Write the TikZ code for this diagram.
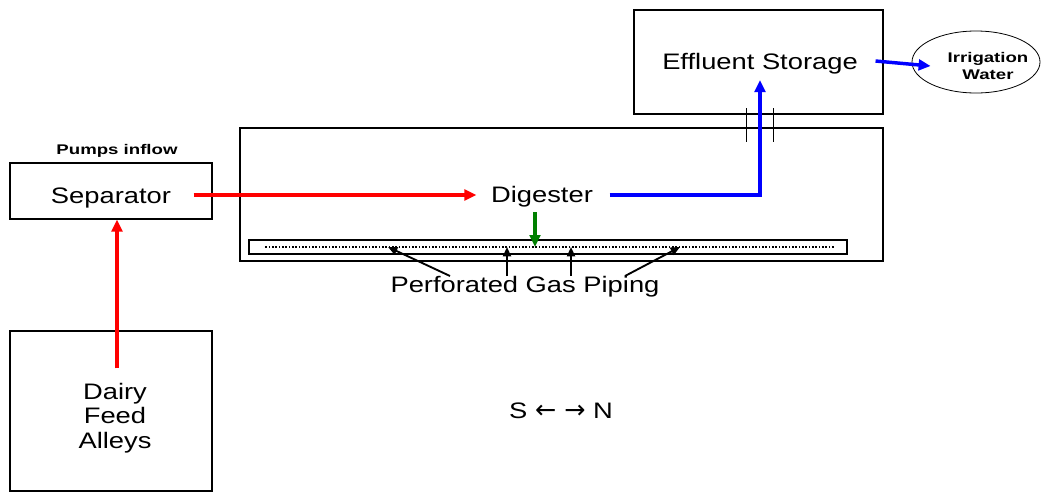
\documentclass[tikz,border=0pt]{standalone}
\usepackage{fontspec}
\setmainfont{Liberation Sans}[FakeStretch=1.22]
\newfontfamily\tagfont{Liberation Sans}[FakeStretch=1.33]
\newfontfamily\arrowfont{DejaVu Sans}
\usetikzlibrary{arrows.meta,shapes.geometric,calc}
\definecolor{FlowRed}{HTML}{FF0000}
\definecolor{FlowBlue}{HTML}{0000FF}
\definecolor{FlowGreen}{HTML}{008000}
\tikzset{
  tank/.style={draw,line width=0.8pt,inner sep=0pt},
  bigtext/.style={font=\fontsize{16.8}{18.4}\selectfont},
  tagtext/.style={font=\tagfont\bfseries\fontsize{10.5}{12.6}\selectfont},
  flow/.style={line width=2.6pt,-{Triangle[length=9pt,width=8pt]}},
  gasarrow/.style={line width=1.4pt,-{Triangle[length=7pt,width=6pt]}},
}

\begin{document}
\begin{tikzpicture}[x=0.75pt,y=-0.75pt,line join=miter]
  \useasboundingbox (0,0) rectangle (1041,493);
  % boxes
  \node[tank,minimum width=151.5pt,minimum height=42pt] (sepbox) at (111,191) {};
  \node[bigtext,anchor=base] (sep) at (111,203) {Separator};
  \node[tagtext,anchor=base] (pumps) at (117,154) {Pumps inflow};
  \node[tank,minimum width=151.5pt,minimum height=120pt] (dairybox) at (111,411) {};
  \node[bigtext,align=center] (dairy) at (115,418) {Dairy\\Feed\\Alleys};
  \node[tank,minimum width=482.25pt,minimum height=99.75pt] (digbox) at (561.5,194.5) {};
  \node[bigtext,anchor=base] (dig) at (542,202) {Digester};
  \node[tank,minimum width=448.5pt,minimum height=10.5pt] (pipe) at (548,247) {};
  \node[tank,minimum width=186.75pt,minimum height=78pt] (effbox) at (758.5,62) {};
  \node[bigtext,anchor=base] (eff) at (760,69) {Effluent Storage};
  \node[tank,line width=0.6pt,ellipse,minimum width=96pt,minimum height=46.5pt] (irr) at (976,62) {};
  \node[tagtext,align=center] (irrtext) at (988,66) {Irrigation\\Water};
  \node[bigtext,anchor=base] (pgp) at (525,292) {Perforated Gas Piping};
  \node[bigtext,anchor=base] (compass) at (561,418) {S {\arrowfont\fontsize{19}{19}\selectfont ← →} N};
  % perforations and pass-through
  \draw[line width=2pt,dash pattern=on 1.2pt off 1.3pt] ($(pipe.west)+(17,0)$) -- ($(pipe.east)+(-14,0)$);
  \draw (746,108) -- (746,142);
  \draw (773,108) -- (773,142);
  % flows
  \draw[flow,FlowRed] ($(dairy.north)+(2,-10)$) -- ($(sepbox.south)+(6,0)$);
  \draw[flow,FlowRed] ($(sepbox.east)+(-19,4)$) -- ($(dig.base west)+(-10,-7)$);
  \draw[flow,FlowBlue] ($(dig.base east)+(12,-7)$) -| ($(eff.base)+(0,11)$);
  \draw[flow,FlowBlue] ($(effbox.east)+(-8,-1)$) -- ($(irr.west)+(19,4)$);
  \draw[flow,FlowGreen] ($(pipe.center)+(-13,-35)$) -- ($(pipe.center)+(-13,0)$);
  \foreach \s/\e in {-75/-160,-18/-41,46/23,100/132}
    \draw[gasarrow] ($(pgp.base)+(\s,-16)$) -- ($(pipe.center)+(\e,0)$);
\end{tikzpicture}
\end{document}
